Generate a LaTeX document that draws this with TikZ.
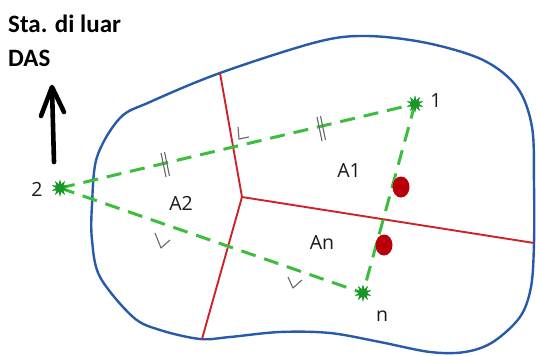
\documentclass[tikz,border=0pt]{standalone}
\usepackage{fontspec}
\setmainfont{Open Sans}
\newfontfamily\titlefont{Carlito}
\usetikzlibrary{shapes.geometric}
\definecolor{bnd}{RGB}{40,90,170}
\definecolor{red1}{RGB}{205,35,40}
\definecolor{grn}{RGB}{60,190,60}
\definecolor{grnd}{RGB}{25,150,40}
\definecolor{dotred}{RGB}{185,0,10}
\tikzset{
  boundary/.style={draw=bnd, line width=2.4pt},
  divide/.style={draw=red1, line width=1.9pt},
  link/.style={draw=grn, line width=3pt, dash pattern=on 15pt off 9pt},
  stn/.style={star, star points=10, star point ratio=2.2, minimum size=17pt, inner sep=0pt, fill=grnd, draw=none},
  pdot/.style={ellipse, fill=dotred, minimum width=17pt, minimum height=21pt, inner sep=0pt},
  lbl/.style={font=\fontsize{19.5}{19.5}\selectfont, text=black!90, inner sep=0pt},
  tick/.style={draw=black!60, line width=1.1pt},
}
\begin{document}
\begin{tikzpicture}[x=1pt,y=-1pt]
\useasboundingbox (0,0) rectangle (536,356);
% boundary
\draw[boundary] plot[smooth cycle, tension=0.55] coordinates {
 (92,205) (97,157) (120,118) (150,102) (220,73) (317,42) (367,36) (427,43)
 (483,60) (517,87) (532,127) (534,185) (534,243) (531,287) (520,317) (493,342)
 (465,352) (430,352) (380,342) (330,333) (280,332) (230,337) (200,339)
 (160,330) (133,317) (100,277) (92,240)};
% red divisions
\coordinate (c) at (242,197);
\coordinate (rt) at (220,73);
\coordinate (rb) at (202,339);
\coordinate (rr) at (534,243);
\draw[divide] (rt) -- (c) -- (rr);
\draw[divide] (c) -- (rb);
% stations
\node[stn] (s1) at (415,104) {};
\node[stn] (s2) at (60,188) {};
\node[stn] (sn) at (363,293) {};
\draw[link] (s2.center) -- (s1.center);
\draw[link] (s2.center) -- (sn.center);
\draw[link] (s1.center) -- (sn.center);
\node[stn] at (s1) {};
\node[stn] at (s2) {};
\node[stn] at (sn) {};
% dots
\node[pdot] (d1) at (401,187) {};
\node[pdot] (d2) at (384,245) {};
% marks
\draw[tick] (161,153) -- (166,177) (164.5,152) -- (169.5,176);
\draw[tick] (317,117) -- (322,141) (320.5,116) -- (325.5,140);
\draw[tick] (238,127) -- (239,139) -- (249,137);
\draw[tick, line join=round] (155,233) -- (161,248) -- (170,240);
\draw[tick, line join=round] (288,277) -- (293,288) -- (302,280);
% labels
\node[lbl] (l1) at (436,101) {1};
\node[lbl] (l2) at (37,189) {2};
\node[lbl] (ln) at (382,316) {n};
\node[lbl] (a1) at (349,171) {A1};
\node[lbl] (a2) at (181,203) {A2};
\node[lbl] (an) at (322,243) {An};
% title and arrow
\node[anchor=west, inner sep=0pt, font=\titlefont\bfseries\fontsize{25}{25}\selectfont] (t1) at (8,24) {Sta. di luar};
\node[anchor=west, inner sep=0pt, font=\titlefont\bfseries\fontsize{25}{25}\selectfont] (t2) at (8,58) {DAS};
\coordinate (a0) at (54,162);
\coordinate (a1p) at (52,88);
\draw[line width=4.6pt, line cap=round] (a0) -- (a1p);
\draw[line width=4.6pt, line cap=round, line join=round] (41,116) -- (52,87) -- (64,112);
\end{tikzpicture}
\end{document}
